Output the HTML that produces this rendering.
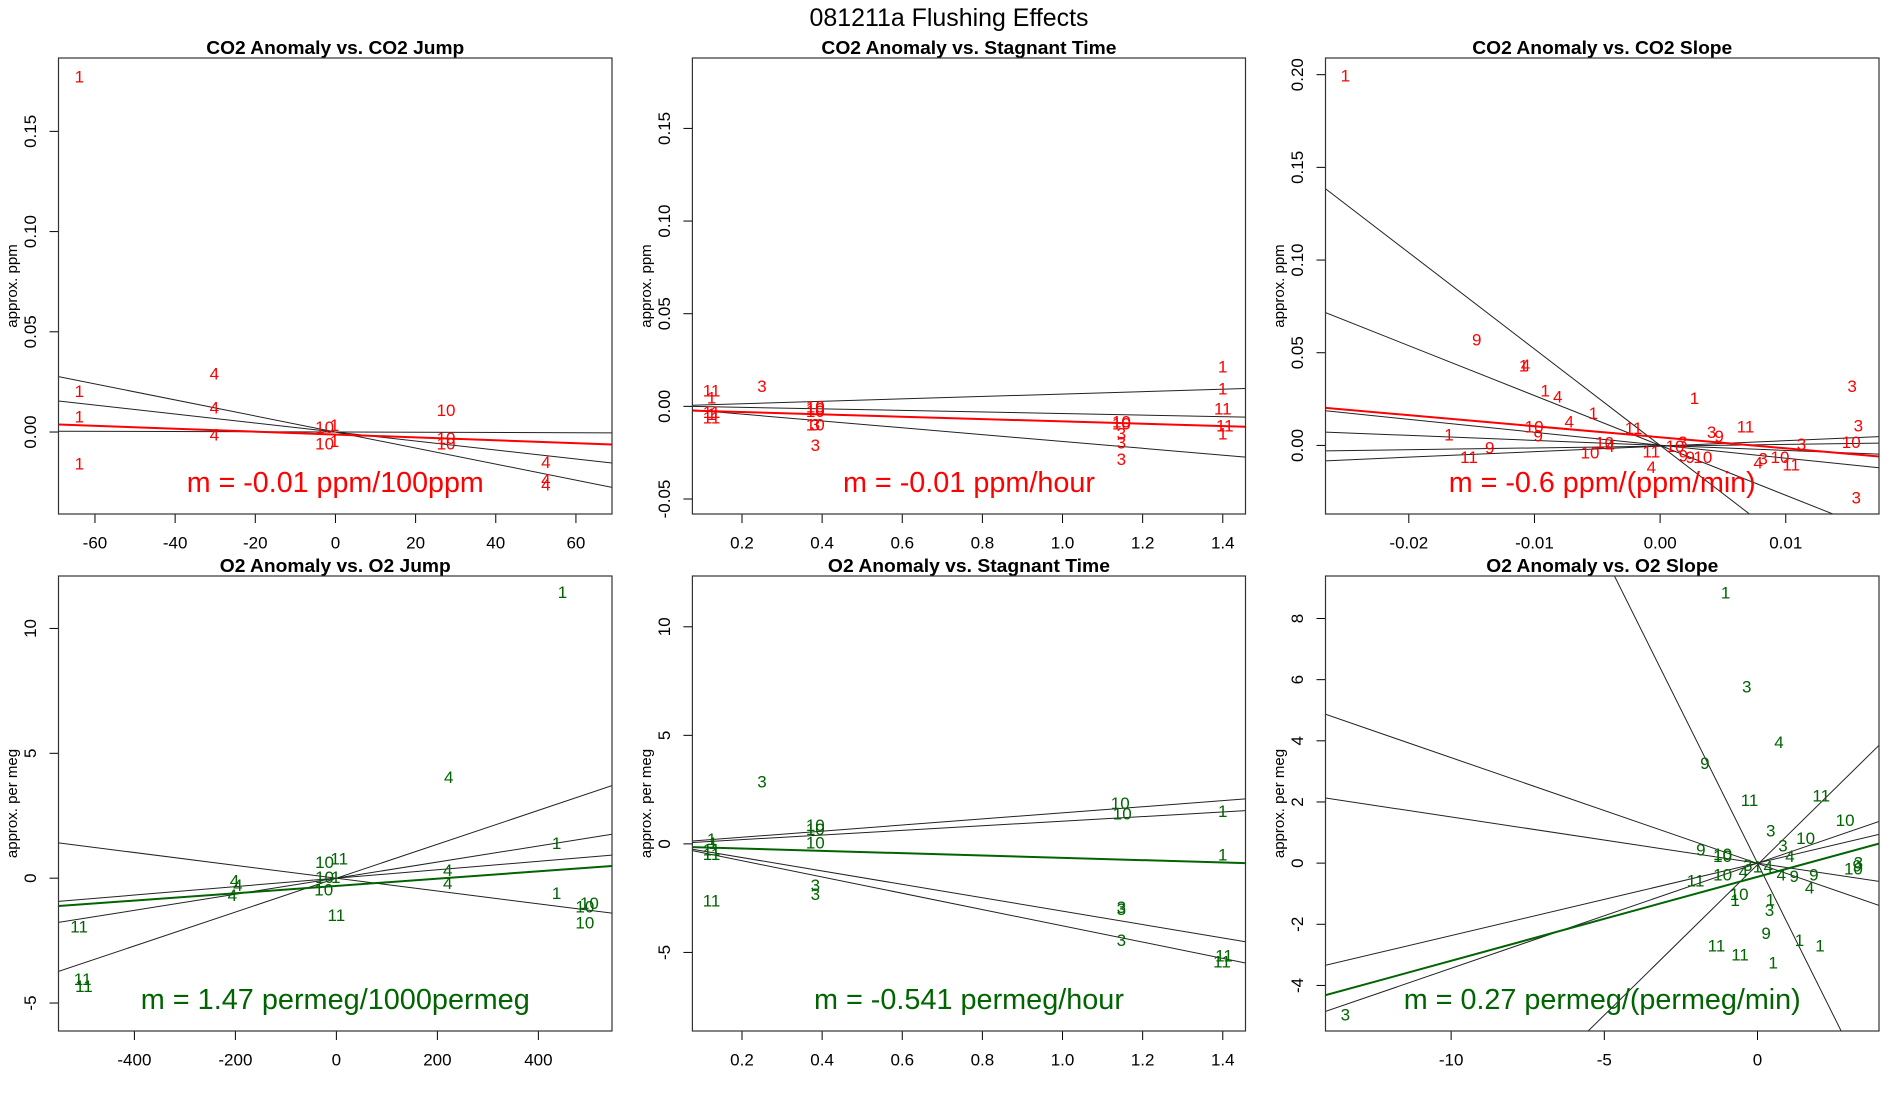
<!DOCTYPE html>
<html><head><meta charset="utf-8"><title>081211a Flushing Effects</title>
<style>html,body{margin:0;padding:0;background:#fff;width:1900px;height:1100px;overflow:hidden}svg{display:block}text{font-family:"Liberation Sans",sans-serif}</style>
</head><body>
<svg id="chart" width="1900" height="1100" viewBox="0 0 1900 1100" xmlns="http://www.w3.org/2000/svg">
<rect width="1900" height="1100" fill="#fff"/>
<text x="949" y="26" font-size="25" text-anchor="middle" textLength="279" lengthAdjust="spacingAndGlyphs">081211a   Flushing Effects</text>
</svg>
<script>
// ---------- Panel 1: CO2 Anomaly vs CO2 Jump ----------
const p1Labels = ["1","1","1","1","4","4","4","10","1","10","1","10","10","10","4","4","4"];
const p1X = [-63.9,-63.9,-63.9,-63.9,-30.2,-30.2,-30.2,-2.7,-0.2,-2.7,-0.2,27.6,27.6,27.6,52.5,52.5,52.5];
const p1Y = [0.177,0.0201,0.0075,-0.016,0.029,0.012,-0.0014,0.0023,0.0032,-0.0059,-0.0048,0.0107,-0.0032,-0.0059,-0.0151,-0.024,-0.0264];
const p1LineInt = [0,0,0];
const p1LineSlope = [-0.0004,-0.000224,-0.000006];
const p1FitInt = -0.00125;
const p1FitSlope = -0.0000723;
const p1XTicks = [-60,-40,-20,0,20,40,60];
const p1YTicks = [0,0.05,0.10,0.15];

// ---------- Panel 2: CO2 Anomaly vs Stagnant Time ----------
const p2Labels = ["11","1","11","1","11","3","10","10","10","10","3","3","10","10","3","3","3","1","1","11","11","1"];
const p2X = [0.124,0.124,0.124,0.124,0.124,0.25,0.383,0.383,0.383,0.383,0.383,0.383,1.147,1.147,1.147,1.147,1.147,1.4,1.4,1.4,1.405,1.4];
const p2Y = [0.0083,0.0044,-0.0033,-0.0045,-0.0062,0.0108,-0.0004,-0.0013,-0.0027,-0.010,-0.010,-0.0212,-0.0085,-0.0096,-0.0148,-0.0197,-0.0287,0.0212,0.0093,-0.0013,-0.0106,-0.0148];
const p2LineInt = [0.00008,0.00032,-0.00052];
const p2LineSlope = [0.00656,-0.00419,-0.01844];
const p2FitInt = -0.00183;
const p2FitSlope = -0.0063;
const p2XTicks = [0.2,0.4,0.6,0.8,1.0,1.2,1.4];
const p2YTicks = [-0.05,0,0.05,0.10,0.15];

// ---------- Panel 3: CO2 Anomaly vs CO2 Slope ----------
const p3Labels = ["1","9","1","4","1","4","1","4","10","9","1","9","11","10","4","10","11","11","4","1","10","3","9","9","10","3","9","11","3","4","3","10","11","3","3","10","3"];
const p3X = [-0.02505,-0.01459,-0.01086,-0.0107,-0.00914,-0.00815,-0.00531,-0.00723,-0.01003,-0.0097,-0.0168,-0.01356,-0.01521,-0.00442,-0.0040,-0.00558,-0.00211,-0.0007,-0.0007,0.00274,0.00119,0.0018,0.00185,0.0024,0.0034,0.0041,0.0047,0.0068,0.01125,0.0078,0.0082,0.00954,0.01043,0.01528,0.01578,0.01521,0.01561];
const p3Y = [0.1992,0.0568,0.0428,0.0432,0.0293,0.026,0.0173,0.0125,0.0100,0.0052,0.0056,-0.0015,-0.0064,0.0013,-0.0006,-0.0040,0.0091,-0.0035,-0.0118,0.0254,-0.0006,0.0017,-0.0058,-0.0064,-0.0064,0.0071,0.0048,0.0100,0.0004,-0.0096,-0.0073,-0.0064,-0.0106,0.0318,0.0104,0.0017,-0.0285];
const p3LineInt = [0,0,0.0001,0,-0.0004,-0.0004];
const p3LineSlope = [-5.2,-2.69,-0.699,-0.27,0.095,0.297];
const p3FitInt = 0.0044;
const p3FitSlope = -0.595;
const p3XTicks = [-0.02,-0.01,0,0.01];
const p3YTicks = [0,0.05,0.10,0.15,0.20];

// ---------- Panel 4: O2 Anomaly vs O2 Jump ----------
const p4Labels = ["1","4","1","1","10","10","10","4","4","10","11","10","1","10","11","4","4","4","11","11","11"];
const p4X = [447.7,222.5,436,436,501,492,492,220.5,220.5,-23.4,5.7,-23.4,-1.3,-25,0,-201.8,-195,-206,-509.5,-502.5,-500];
const p4Y = [11.43,4.03,1.39,-0.62,-1.02,-1.16,-1.80,0.31,-0.21,0.63,0.77,0.03,0.03,-0.47,-1.50,-0.11,-0.30,-0.69,-1.95,-4.05,-4.33];
const p4LineInt = [0,0,0,0];
const p4LineSlope = [0.006788,0.00322,0.00169,-0.002569];
const p4FitInt = -0.311;
const p4FitSlope = 0.001462;
const p4XTicks = [-400,-200,0,200,400];
const p4YTicks = [-5,0,5,10];

// ---------- Panel 5: O2 Anomaly vs Stagnant Time ----------
const p5Labels = ["3","1","1","11","11","11","10","10","10","3","3","10","10","1","1","3","3","3","11","11"];
const p5X = [0.25,0.124,0.128,0.124,0.124,0.124,0.383,0.383,0.383,0.383,0.383,1.144,1.149,1.4,1.4,1.147,1.147,1.147,1.403,1.398];
const p5Y = [2.85,0.21,0.02,-0.28,-0.48,-2.62,0.84,0.67,0.05,-1.92,-2.34,1.86,1.37,1.50,-0.51,-2.94,-3.03,-4.46,-5.16,-5.44];
const p5LineInt = [0.025,-0.015,-0.012,-0.025];
const p5LineSlope = [1.405,1.06,-3.088,-3.75];
const p5FitInt = -0.107;
const p5FitSlope = -0.536;
const p5XTicks = [0.2,0.4,0.6,0.8,1.0,1.2,1.4];
const p5YTicks = [-5,0,5,10];

// ---------- Panel 6: O2 Anomaly vs O2 Slope ----------
const p6Labels = ["1","3","4","9","11","11","10","3","10","3","4","9","10","10","3","10","9","10","4","3","1","4","4","9","9","4","11","10","1","1","3","9","1","1","11","11","1","3"];
const p6X = [-1.04,-0.35,0.70,-1.72,-0.26,2.08,2.86,0.43,1.57,0.83,1.06,-1.85,-1.14,-1.14,3.29,3.13,3.25,-1.14,-0.46,-0.32,0.0,0.35,0.78,1.2,1.84,1.70,-2.02,-0.60,-0.73,0.42,0.39,0.28,1.37,2.04,-1.34,-0.57,0.51,-13.45];
const p6Y = [8.84,5.76,3.95,3.25,2.04,2.20,1.40,1.05,0.81,0.56,0.21,0.43,0.29,0.21,0.0,-0.20,-0.10,-0.39,-0.29,-0.08,-0.12,-0.12,-0.39,-0.43,-0.39,-0.82,-0.58,-1.03,-1.23,-1.20,-1.55,-2.30,-2.53,-2.71,-2.71,-3.0,-3.27,-4.96];
const p6LineInt = [0,-0.05,-0.01,0,0,0];
const p6LineSlope = [-2.011,0.984,-0.346,-0.151,0.237,0.344];
const p6FitInt = -0.448;
const p6FitSlope = 0.2746;
const p6XTicks = [-10,-5,0];
const p6YTicks = [-4,-2,0,2,4,6,8];

const NS = "http://www.w3.org/2000/svg";
const svg = document.getElementById("chart");

function mk(tag, attrs, parent) {
  const el = document.createElementNS(NS, tag);
  for (const k in attrs) el.setAttribute(k, attrs[k]);
  (parent || svg).appendChild(el);
  return el;
}

function drawPanel(id, frame, xDom, yDom, xDec, yDec, title, titleW, ylab, note, noteW, color,
                   labels, xs, ys, lineInt, lineSlope, fitInt, fitSlope, xTicks, yTicks) {
  const [L, T, R, B] = frame;
  const sx = v => L + (v - xDom[0]) / (xDom[1] - xDom[0]) * (R - L);
  const sy = v => B - (v - yDom[0]) / (yDom[1] - yDom[0]) * (B - T);
  const g = mk("g", {});
  
  
  const cp = mk("clipPath", {id: "clip-" + id}, g);
  mk("rect", {x: L, y: T, width: R - L, height: B - T}, cp);

  const t = mk("text", {x: (L + R) / 2, y: T - 4, "font-size": 18, "font-weight": "bold", "text-anchor": "middle", textLength: titleW, lengthAdjust: "spacingAndGlyphs"}, g);
  t.textContent = title;
  
  

  const yl = mk("text", {x: L - 46, y: (T + B) / 2, "font-size": 15, "text-anchor": "middle", "dominant-baseline": "central", transform: "rotate(-90 " + (L - 46) + " " + ((T + B) / 2) + ")"}, g);
  yl.textContent = ylab;
  
  

  xTicks.forEach(v => {
    const x = sx(v);
    const tk = mk("line", {x1: x, x2: x, y1: B, y2: B + 9, stroke: "#000", "stroke-width": 1}, g);
    
    
    const tl = mk("text", {x: x, y: B + 29, "font-size": 17, "text-anchor": "middle", "dominant-baseline": "central"}, g);
    tl.textContent = v.toFixed(xDec);
    
    
  });
  yTicks.forEach(v => {
    const y = sy(v);
    const tk = mk("line", {x1: L - 9, x2: L, y1: y, y2: y, stroke: "#000", "stroke-width": 1}, g);
    
    
    const tx = L - 28;
    const tl = mk("text", {x: tx, y: y, "font-size": 17, "text-anchor": "middle", "dominant-baseline": "central", transform: "rotate(-90 " + tx + " " + y + ")"}, g);
    tl.textContent = v.toFixed(yDec);
    
    
  });

  const cg = mk("g", {"clip-path": "url(#clip-" + id + ")"}, g);
  lineInt.forEach((a, i) => {
    const b = lineSlope[i];
    const ln = mk("line", {x1: sx(xDom[0]), y1: sy(a + b * xDom[0]), x2: sx(xDom[1]), y2: sy(a + b * xDom[1]), stroke: "#222", "stroke-width": 1}, cg);
    
    
  });
  const fl = mk("line", {x1: sx(xDom[0]), y1: sy(fitInt + fitSlope * xDom[0]), x2: sx(xDom[1]), y2: sy(fitInt + fitSlope * xDom[1]), stroke: color, "stroke-width": 2}, cg);
  
  

  labels.forEach((lab, i) => {
    const p = mk("text", {x: sx(xs[i]), y: sy(ys[i]), "font-size": 17, fill: color, "text-anchor": "middle", "dominant-baseline": "central"}, cg);
    p.textContent = lab;
    
    
  });

  const n = mk("text", {x: (L + R) / 2, y: B - 22, "font-size": 29, fill: color, "text-anchor": "middle", textLength: noteW, lengthAdjust: "spacingAndGlyphs"}, g);
  n.textContent = note;
  
  

  const fr = mk("rect", {x: L, y: T, width: R - L, height: B - T, fill: "none", stroke: "#333", "stroke-width": 1.2}, g);
  
  
}

const RED = "#ff0000", GREEN = "#006400";
drawPanel("co2-jump", [58.5, 58, 612, 514], [-69.1, 69], [-0.0409, 0.1866], 0, 2,
  "CO2 Anomaly vs. CO2 Jump", 258, "approx. ppm", "m = -0.01 ppm/100ppm", 297, RED,
  p1Labels, p1X, p1Y, p1LineInt, p1LineSlope, p1FitInt, p1FitSlope, p1XTicks, p1YTicks);
drawPanel("co2-stagnant", [692.4, 58, 1245.5, 514], [0.0762, 1.4567], [-0.0581, 0.188], 1, 2,
  "CO2 Anomaly vs. Stagnant Time", 295, "approx. ppm", "m = -0.01 ppm/hour", 252, RED,
  p2Labels, p2X, p2Y, p2LineInt, p2LineSlope, p2FitInt, p2FitSlope, p2XTicks, p2YTicks);
drawPanel("co2-slope", [1325.5, 58, 1879, 514], [-0.02663, 0.01742], [-0.037, 0.209], 2, 2,
  "CO2 Anomaly vs. CO2 Slope", 260, "approx. ppm", "m = -0.6 ppm/(ppm/min)", 307, RED,
  p3Labels, p3X, p3Y, p3LineInt, p3LineSlope, p3FitInt, p3FitSlope, p3XTicks, p3YTicks);
drawPanel("o2-jump", [58.5, 576, 612, 1031], [-550.3, 545.8], [-6.12, 12.1], 0, 0,
  "O2 Anomaly vs. O2 Jump", 231, "approx. per meg", "m = 1.47 permeg/1000permeg", 389, GREEN,
  p4Labels, p4X, p4Y, p4LineInt, p4LineSlope, p4FitInt, p4FitSlope, p4XTicks, p4YTicks);
drawPanel("o2-stagnant", [692.4, 576, 1245.5, 1031], [0.0762, 1.4567], [-8.62, 12.34], 1, 0,
  "O2 Anomaly vs. Stagnant Time", 282, "approx. per meg", "m = -0.541 permeg/hour", 310, GREEN,
  p5Labels, p5X, p5Y, p5LineInt, p5LineSlope, p5FitInt, p5FitSlope, p5XTicks, p5YTicks);
drawPanel("o2-slope", [1325.5, 576, 1879, 1031], [-14.10, 3.965], [-5.49, 9.39], 0, 0,
  "O2 Anomaly vs. O2 Slope", 232, "approx. per meg", "m = 0.27 permeg/(permeg/min)", 397, GREEN,
  p6Labels, p6X, p6Y, p6LineInt, p6LineSlope, p6FitInt, p6FitSlope, p6XTicks, p6YTicks);
</script>
</body></html>
